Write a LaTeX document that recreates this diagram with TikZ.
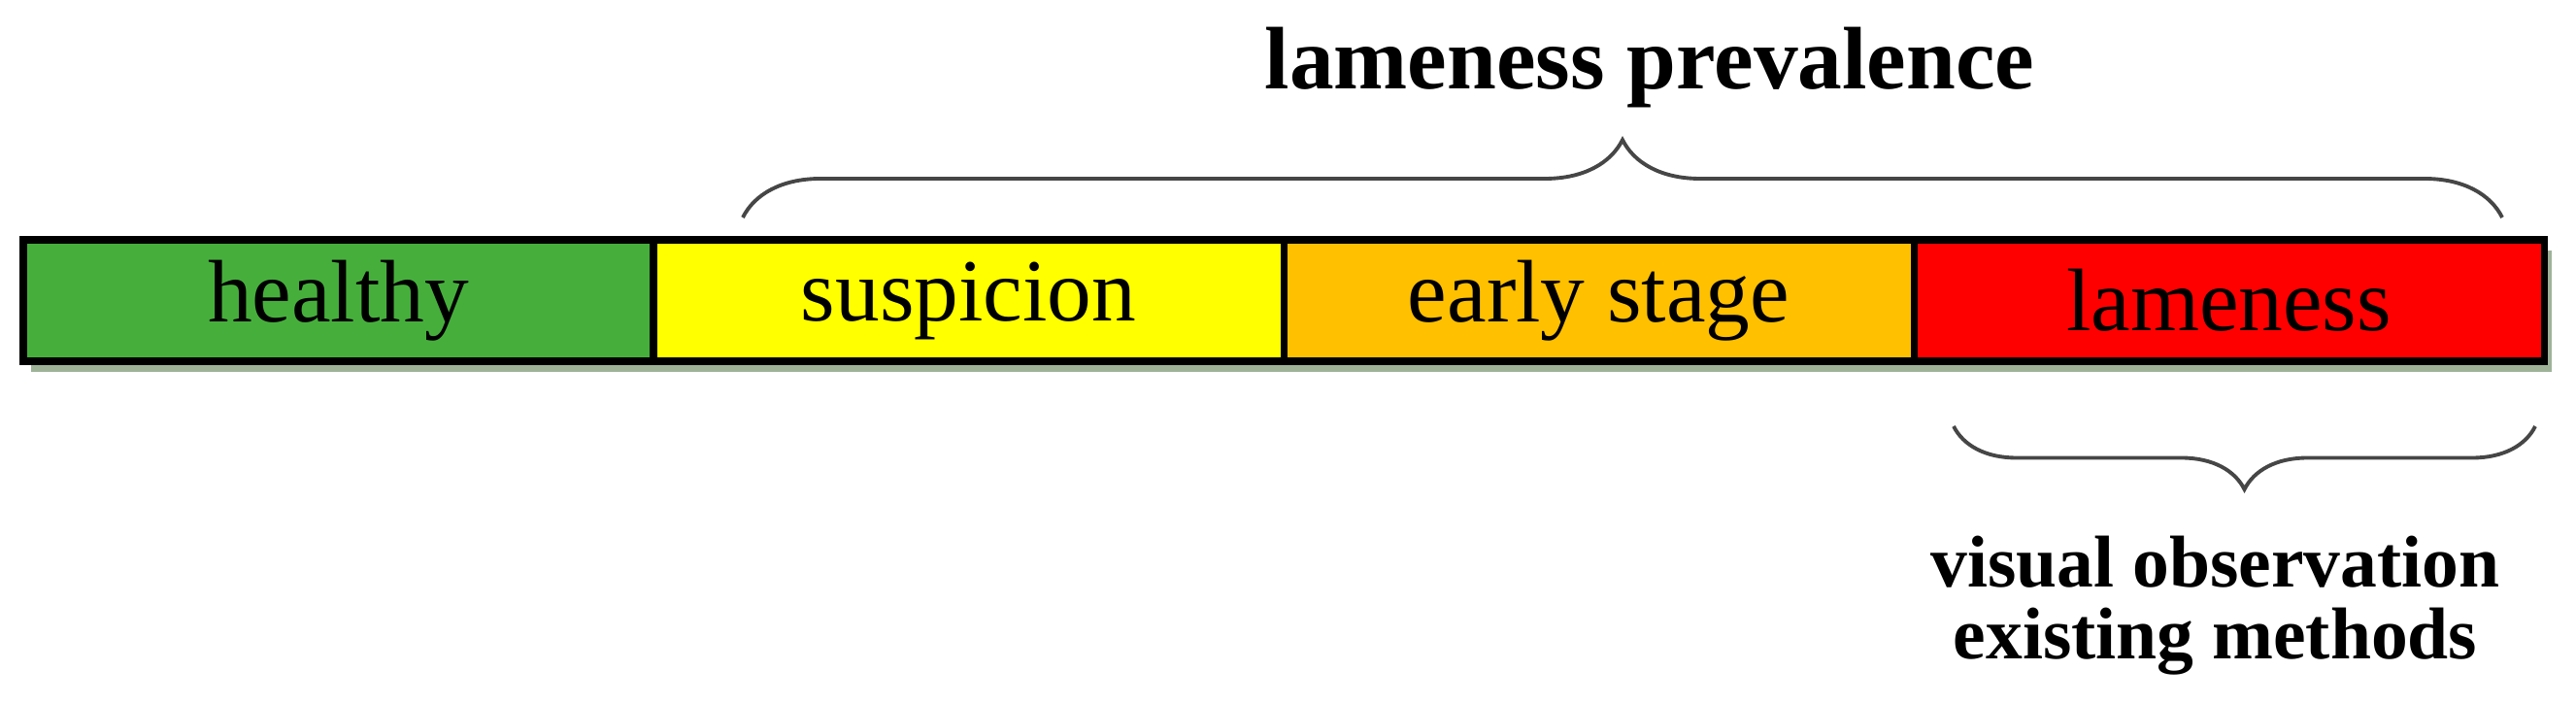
\documentclass[tikz,border=0pt]{standalone}
\usepackage{fontspec}
\setmainfont{Liberation Serif}
\usetikzlibrary{positioning, decorations.pathreplacing, shadows}
\definecolor{healthygreen}{RGB}{70,175,60}
\definecolor{suspicionyellow}{RGB}{255,255,0}
\definecolor{earlyorange}{RGB}{255,192,0}
\definecolor{lamered}{RGB}{255,0,0}
\definecolor{barshadow}{RGB}{158,178,152}
\definecolor{bracegray}{RGB}{70,70,70}

\begin{document}
\begin{tikzpicture}[
stage/.style={draw=black, line width=2pt, minimum width=6.49cm, minimum height=1.25cm,
  inner sep=0pt, outer sep=0pt, font=\fontsize{26}{30}\selectfont,
  drop shadow={shadow xshift=0.08cm, shadow yshift=-0.11cm, fill=barshadow, opacity=1}},
bracket/.style={decorate, decoration={brace, amplitude=0.8cm}, draw=bracegray, line width=1.1pt},
caption/.style={font=\bfseries\fontsize{26}{26}\selectfont, inner sep=0pt},
]
\useasboundingbox (0,0) rectangle (26.53,-7.25);

\node[stage, fill=healthygreen] (healthy) at (3.485,-3.095) {healthy};
\node[stage, fill=suspicionyellow, right=0pt of healthy] (suspicion) {suspicion};
\node[stage, fill=earlyorange, right=0pt of suspicion] (early) {early stage};
\node[stage, fill=lamered, right=0pt of early] (lameness) {lameness};

\coordinate (prevL) at ([xshift=0.92cm, yshift=0.23cm]suspicion.north west);
\coordinate (prevR) at ([xshift=-0.43cm, yshift=0.23cm]lameness.north east);
\draw[bracket] (prevL) -- (prevR)
  node[midway, above=1.11cm, xshift=0.28cm, caption] (prevalence) {lameness prevalence};

\coordinate (visL) at ([xshift=0.41cm, yshift=-0.67cm]lameness.south west);
\coordinate (visR) at ([xshift=-0.09cm, yshift=-0.67cm]lameness.south east);
\draw[bracket, decoration={brace, mirror, amplitude=0.65cm}] (visL) -- (visR)
  node[midway, below=1.11cm, xshift=-0.3cm, caption, align=center, font=\bfseries\fontsize{21.5}{21}\selectfont] (methods)
  {visual observation\\existing methods};
\end{tikzpicture}
\end{document}
